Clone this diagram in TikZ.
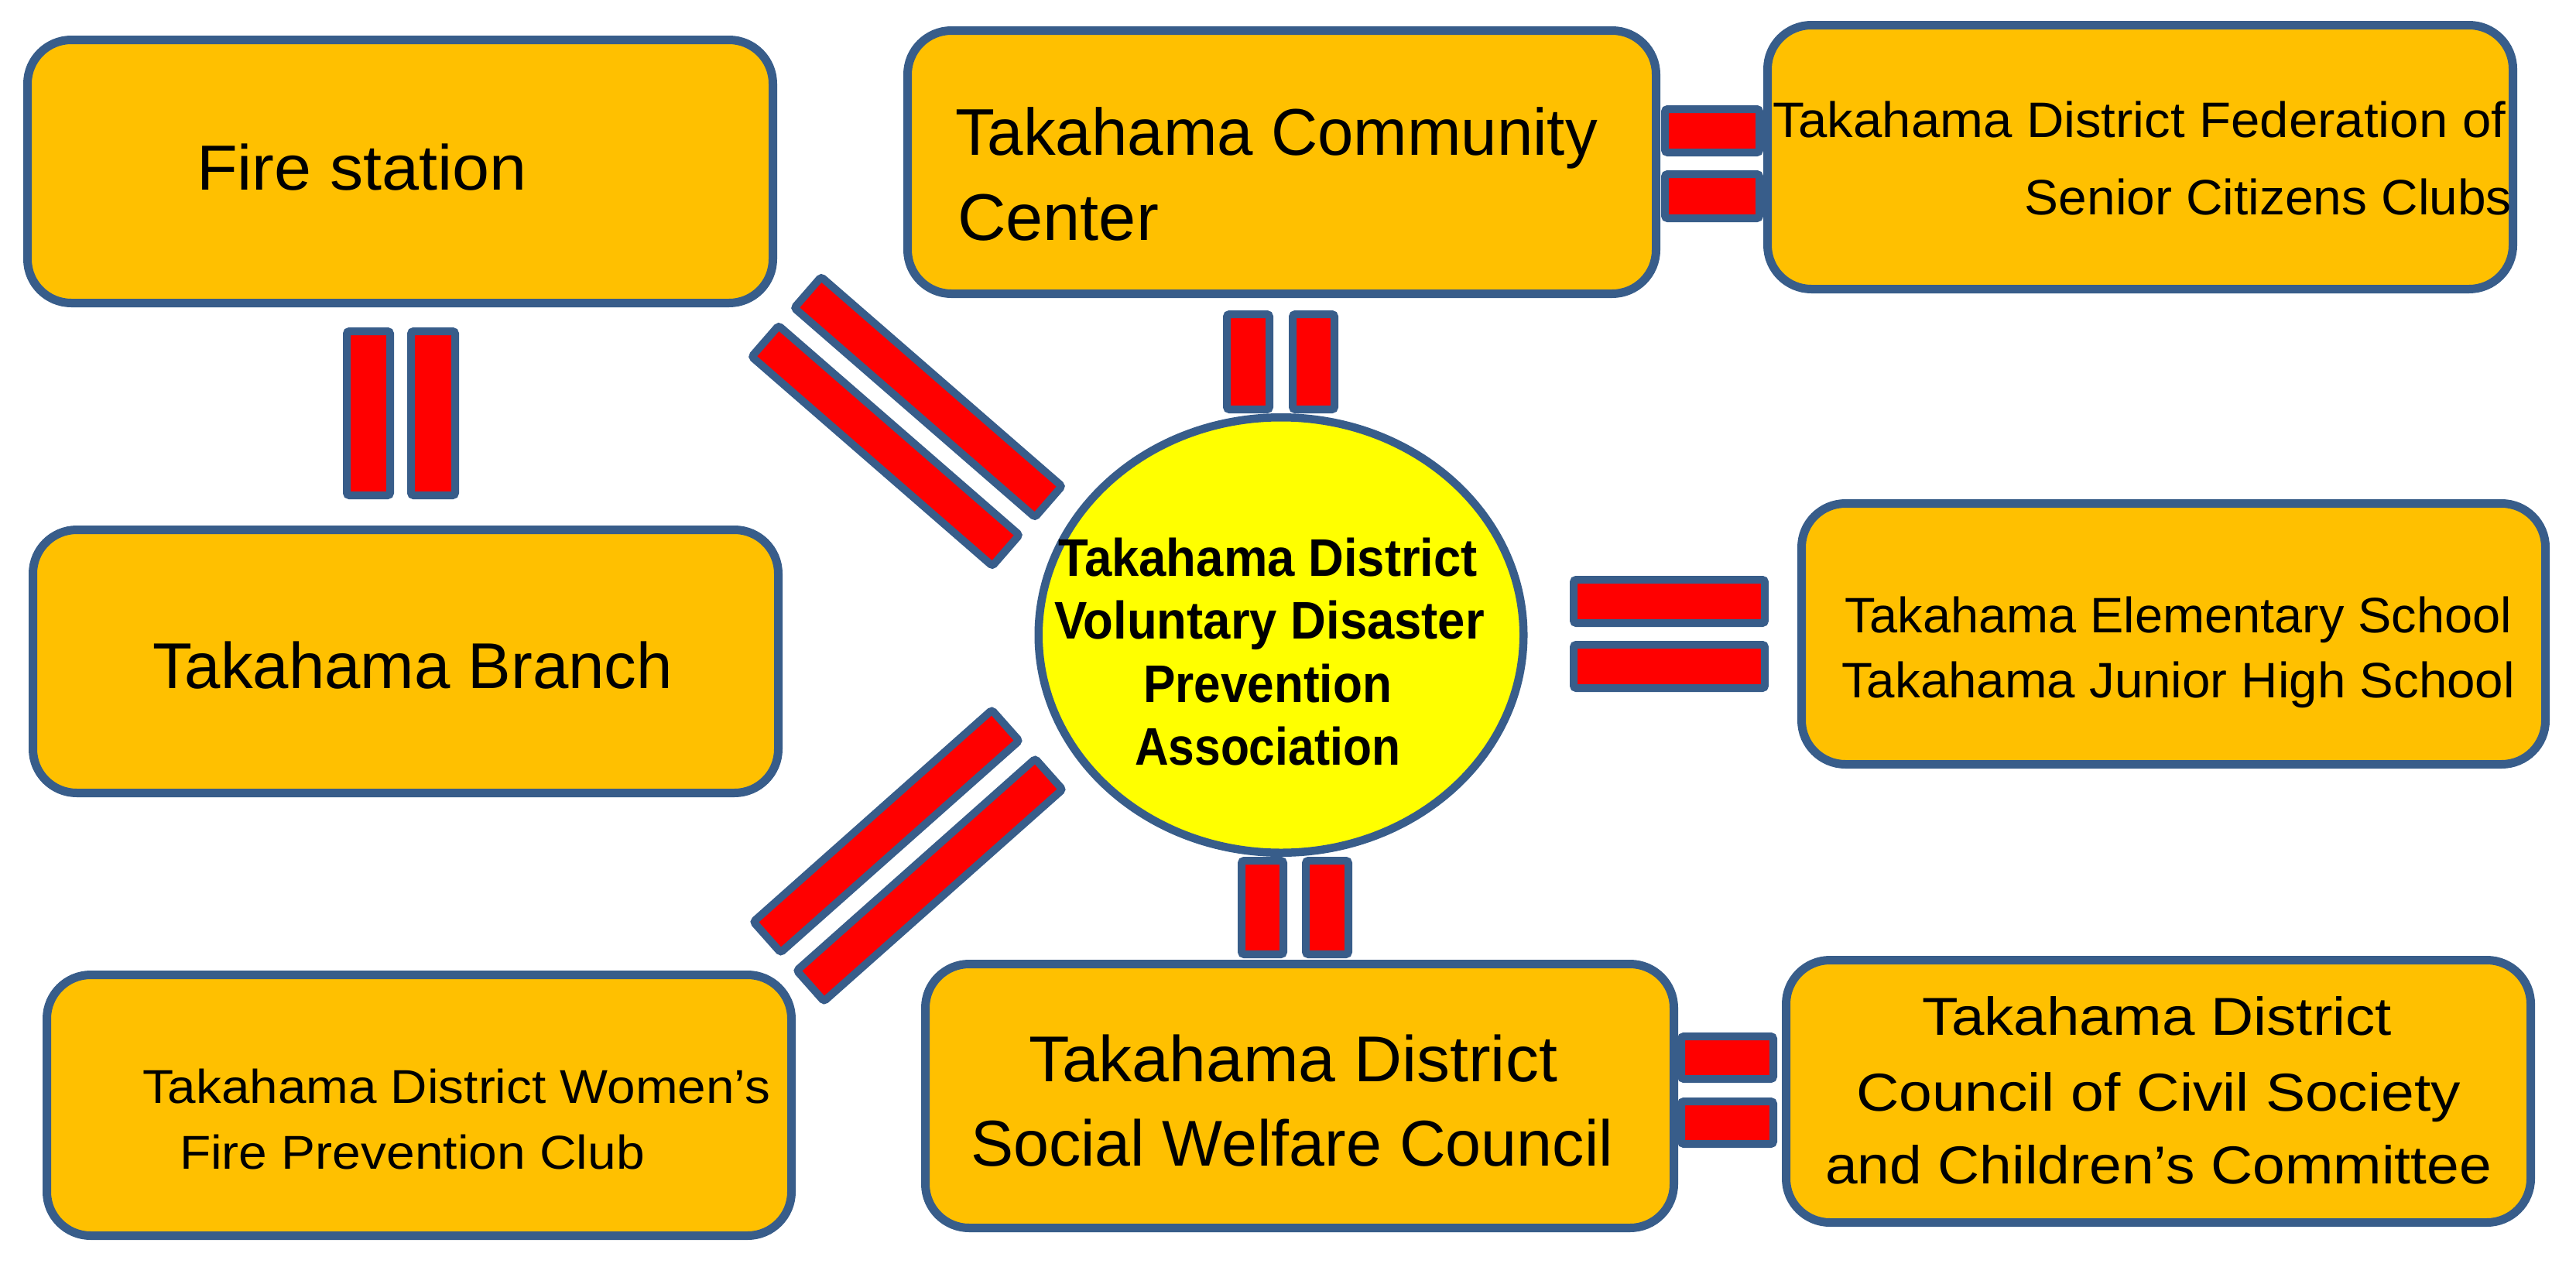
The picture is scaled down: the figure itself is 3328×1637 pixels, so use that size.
\documentclass[tikz,border=0pt]{standalone}
\usepackage{fontspec}
\setmainfont{Liberation Sans}
\usepackage{graphicx}
\usetikzlibrary{shapes.geometric}
\definecolor{boxfill}{RGB}{255,192,0}
\definecolor{edgeblue}{RGB}{56,93,138}
\definecolor{barred}{RGB}{255,0,0}
\definecolor{circfill}{RGB}{255,255,0}
\newdimen\pxu \pxu=0.3pt
\newcommand\fitw[2]{\resizebox{#1\pxu}{\height}{#2}}
\newcommand\fsz[1]{\fontsize{#1pt}{#1pt}\selectfont}
\tikzset{
  obox/.style={draw=edgeblue, fill=boxfill, line width=11*0.3pt, rounded corners=17pt, inner sep=0pt},
  barbox/.style={draw=edgeblue, fill=barred, line width=10*0.3pt, rounded corners=1pt, inner sep=0pt},
  hub/.style={draw=edgeblue, fill=circfill, ellipse, line width=10.5*0.3pt, inner sep=0pt},
  txt/.style={inner sep=0pt, outer sep=0pt, text=black},
}
\newcommand\obx[5]{\node[obox, minimum width={(#4-#2-11)*0.3pt}, minimum height={(#5-#3-11)*0.3pt}] (#1) at ({(#2+#4)/2},{(#3+#5)/2}) {};}
\newcommand\redbar[5]{\node[barbox, minimum width={(#4-#2-10)*0.3pt}, minimum height={(#5-#3-10)*0.3pt}] (#1) at ({(#2+#4)/2},{(#3+#5)/2}) {};}
\begin{document}
\begin{tikzpicture}[x=0.3pt,y=-0.3pt]
\useasboundingbox (0,0) rectangle (3328,1637);
% boxes
\obx{fire}{30}{46}{1004}{397}
\obx{branch}{37}{679}{1011}{1030}
\obx{women}{55}{1254}{1028}{1602}
\obx{community}{1167}{34}{2145}{385}
\obx{federation}{2278}{27}{3252}{379}
\obx{school}{2322}{645}{3294}{993}
\obx{social}{1190}{1240}{2168}{1592}
\obx{civil}{2302}{1235}{3275}{1585}
% hub
\node[hub, minimum width={(637-10.5)*0.3pt}, minimum height={(573-10.5)*0.3pt}] (hub) at (1655,820.5) {};
% bars
\redbar{fb1}{443}{423}{509}{645}
\redbar{fb2}{526}{423}{593}{645}
\redbar{ch1}{1580}{401}{1645}{534}
\redbar{ch2}{1665}{401}{1729}{534}
\redbar{hs1}{1599}{1107}{1663}{1238}
\redbar{hs2}{1682}{1107}{1747}{1238}
\redbar{cf1}{2146}{136}{2278}{202}
\redbar{cf2}{2146}{220}{2278}{287}
\redbar{hsc1}{2028}{744}{2285}{810}
\redbar{hsc2}{2028}{828}{2285}{894}
\redbar{sc1}{2167}{1334}{2296}{1399}
\redbar{sc2}{2167}{1418}{2296}{1483}
\node[barbox, rotate=-41, minimum width=412*0.3pt, minimum height=53*0.3pt] (fh1) at (1199,513) {};
\node[barbox, rotate=-41, minimum width=412*0.3pt, minimum height=53*0.3pt] (fh2) at (1144,576) {};
\node[barbox, rotate=41.6, minimum width=412*0.3pt, minimum height=53*0.3pt] (wh1) at (1145,1074) {};
\node[barbox, rotate=41.6, minimum width=412*0.3pt, minimum height=53*0.3pt] (wh2) at (1201,1137) {};
% texts
\node[txt, anchor=base west, font=\fsz{24.7}] (tfire) at (254,245.5) {\fitw{427}{Fire station}};
\node[txt, anchor=base west, font=\fsz{25.1}] (tbranch) at (197,889) {\fitw{672}{Takahama Branch}};
\node[txt, anchor=base west, font=\fsz{18.4}] (twomen1) at (184,1425) {\fitw{811}{Takahama District Women’s}};
\node[txt, anchor=base west, font=\fsz{18.4}] (twomen2) at (232,1510) {\fitw{601}{Fire Prevention Club}};
\node[txt, anchor=base west, font=\fsz{25.6}] (tcom1) at (1234,200) {\fitw{830}{Takahama Community}};
\node[txt, anchor=base west, font=\fsz{25.6}] (tcom2) at (1237,310) {\fitw{260}{Center}};
\node[txt, anchor=base west, font=\fsz{19.3}] (tfed1) at (2290,177) {\fitw{947}{Takahama District Federation of}};
\node[txt, anchor=base east, font=\fsz{19.3}] (tfed2) at (3245,277) {\fitw{629}{Senior Citizens Clubs}};
\node[txt, anchor=base west, font=\fsz{19.3}] (tsch1) at (2383,817) {\fitw{862}{Takahama Elementary School}};
\node[txt, anchor=base west, font=\fsz{19.3}] (tsch2) at (2379,901) {\fitw{870}{Takahama Junior High School}};
\node[txt, anchor=base west, font=\fsz{25.1}] (tsoc1) at (1329,1397) {\fitw{683}{Takahama District}};
\node[txt, anchor=base west, font=\fsz{25.1}] (tsoc2) at (1254,1506) {\fitw{830}{Social Welfare Council}};
\node[txt, anchor=base west, font=\fsz{20.7}] (tciv1) at (2483,1337.5) {\fitw{607}{Takahama District}};
\node[txt, anchor=base west, font=\fsz{20.7}] (tciv2) at (2398,1435) {\fitw{781}{Council of Civil Society}};
\node[txt, anchor=base west, font=\fsz{20.7}] (tciv3) at (2358,1529) {\fitw{861}{and Children’s Committee}};
\node[txt, anchor=base west, font=\bfseries\fsz{20.5}] (thub1) at (1367,744) {\fitw{542}{Takahama District}};
\node[txt, anchor=base west, font=\bfseries\fsz{20.5}] (thub2) at (1362,825) {\fitw{556}{Voluntary Disaster}};
\node[txt, anchor=base west, font=\bfseries\fsz{20.5}] (thub3) at (1477,907) {\fitw{321}{Prevention}};
\node[txt, anchor=base west, font=\bfseries\fsz{20.5}] (thub4) at (1466,988) {\fitw{343}{Association}};
\end{tikzpicture}
\end{document}
